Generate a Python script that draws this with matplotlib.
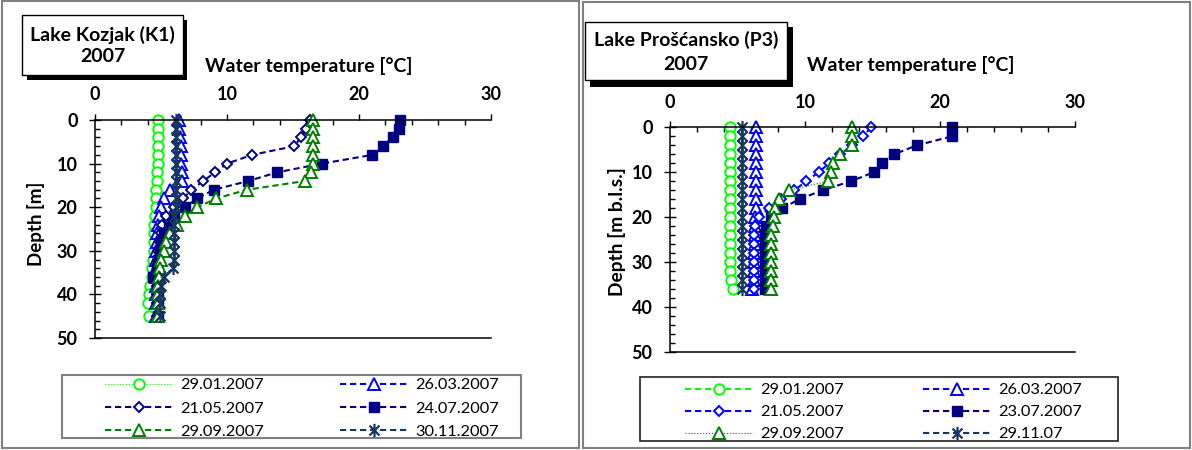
import matplotlib
matplotlib.use("Agg")
import matplotlib.pyplot as plt
from matplotlib.patches import Rectangle
from matplotlib.lines import Line2D
from matplotlib.path import Path
from matplotlib.ticker import MultipleLocator

plt.rcParams['font.family'] = ['Lato', 'DejaVu Sans']

W, H = 1192, 450

# ---- Lake Kozjak (K1), depth [m] vs temperature [°C]
k_depth = [0, 2, 4, 6, 8, 10, 12, 14, 16, 18, 20, 22, 24, 26, 28, 30, 32, 34, 36, 38, 40, 42, 45]
k_2901 = [4.75, 4.75, 4.75, 4.75, 4.75, 4.75, 4.7, 4.7, 4.65, 4.6, 4.6, 4.55, 4.5, 4.5, 4.5, 4.45,
          4.4, 4.35, 4.3, 4.2, 4.1, 4.0, 4.1]
k_2603 = [6.4, 6.4, 6.45, 6.5, 6.5, 6.55, 6.6, 6.6, 5.7, 5.2, 5.0, 4.85, 4.75, 4.7, 4.7, 4.65,
          4.65, 4.6, 4.6, 4.6, 4.6, 4.6, 4.6]
k_2105 = [16.3, 16.0, 15.6, 15.1, 11.9, 10.0, 9.1, 8.2, 7.3, 6.7, 6.0, 5.4, 5.1, 5.0, 4.9, 4.8,
          4.8, 4.75, 4.7, 4.7, 4.7, 4.7, 4.7]
k_2407 = [23.1, 23.0, 22.55, 21.8, 21.0, 17.2, 13.8, 11.6, 9.0, 7.75, 6.8, 6.0, 5.6, 5.2, 5.0, 4.9,
          4.8, 4.7, 4.4, 4.7, 4.8, 4.8, 4.8]
k_2909 = [16.5, 16.5, 16.5, 16.5, 16.5, 16.5, 16.4, 15.9, 11.5, 9.2, 7.75, 6.8, 6.2, 5.7, 5.4, 5.2,
          5.0, 4.9, 4.85, 4.8, 4.8, 4.8, 4.8]
k_3011 = [6.1, 6.1, 6.1, 6.1, 6.1, 6.1, 6.1, 6.1, 6.1, 6.1, 6.1, 6.0, 6.0, 6.0, 6.0, 6.0,
          5.95, 5.9, 5.2, 5.0, 4.9, 4.9, 4.9]
k_labels = ['29.01.2007', '26.03.2007', '21.05.2007', '24.07.2007', '29.09.2007', '30.11.2007']

# ---- Lake Prošćansko (P3)
p_depth = [0, 2, 4, 6, 8, 10, 12, 14, 16, 18, 20, 22, 24, 26, 28, 30, 32, 34, 36]
p_2901 = [4.45, 4.45, 4.45, 4.45, 4.45, 4.45, 4.45, 4.45, 4.45, 4.45, 4.45, 4.45, 4.45, 4.45,
          4.45, 4.45, 4.45, 4.5, 4.65]
p_2603 = [6.35, 6.35, 6.35, 6.35, 6.35, 6.35, 6.35, 6.35, 6.35, 6.35, 6.3, 6.3, 6.3, 6.3,
          6.25, 6.25, 6.2, 6.2, 6.1]
p_2105 = [14.9, 14.3, 13.5, 12.6, 11.8, 11.0, 10.1, 9.2, 8.2, 7.3, 6.6, 6.3, 6.2, 6.2,
          6.2, 6.2, 6.2, 6.2, 6.2]
p_2307 = [20.9, 20.9, 18.3, 16.6, 15.7, 15.1, 13.4, 11.3, 9.6, 8.3, 7.5, 7.1, 7.0, 7.0,
          7.0, 7.0, 7.0, 7.0, 7.0]
p_2909 = [13.5, 13.5, 13.5, 12.6, 12.1, 11.9, 11.7, 8.8, 8.1, 7.8, 7.7, 7.6, 7.5, 7.5,
          7.5, 7.5, 7.5, 7.5, 7.5]
p_2911 = [5.3, 5.3, 5.3, 5.3, 5.3, 5.3, 5.3, 5.3, 5.3, 5.3, 5.3, 5.3, 5.3, 5.3,
          5.3, 5.3, 5.3, 5.3, 5.3]
p_labels = ['29.01.2007', '26.03.2007', '21.05.2007', '23.07.2007', '29.09.2007', '29.11.07']


def fx(x):
    return x / W


def fy(y):
    return 1 - y / H


star = Path([(0, -1), (0, 1), (-0.75, -0.75), (0.75, 0.75), (-0.75, 0.75), (0.75, -0.75)],
            [Path.MOVETO, Path.LINETO] * 3)
dash = (0, (3, 1.8))

LIME, BLUE, NAVY, GREEN, SLATE = '#00FF00', '#0000FF', '#000080', '#008000', '#17375E'

k_styles = [
    dict(color=LIME, marker='o', mfc='white', ms=7.5, mew=1.4, ls=':', lw=0.8),
    dict(color=BLUE, marker='^', mfc='white', ms=8, mew=1.4, ls=dash, lw=1.5),
    dict(color=NAVY, marker='D', mfc='white', ms=5, mew=1.4, ls=dash, lw=1.5),
    dict(color=NAVY, marker='s', mfc=NAVY, ms=7.5, mew=1, ls=dash, lw=1.5),
    dict(color=GREEN, marker='^', mfc='white', ms=8, mew=1.4, ls=dash, lw=1.5),
    dict(color=SLATE, marker=star, ms=9.5, mew=1.6, ls=dash, lw=1.5),
]
p_styles = [
    dict(color=LIME, marker='o', mfc='white', ms=7.5, mew=1.4, ls=dash, lw=1.5),
    dict(color=BLUE, marker='^', mfc='white', ms=8, mew=1.4, ls=dash, lw=1.5),
    dict(color=BLUE, marker='D', mfc='white', ms=5, mew=1.4, ls=dash, lw=1.5),
    dict(color=NAVY, marker='s', mfc=NAVY, ms=7.5, mew=1, ls=dash, lw=1.5),
    dict(color=GREEN, marker='^', mfc='white', ms=8, mew=1.4, ls=':', lw=0.8),
    dict(color=SLATE, marker=star, ms=9.5, mew=1.6, ls=dash, lw=1.5),
]


def setup_axes(ax):
    ax.set_xlim(0, 30)
    ax.set_ylim(50, 0)
    ax.xaxis.tick_top()
    ax.xaxis.set_major_locator(MultipleLocator(10))
    ax.xaxis.set_minor_locator(MultipleLocator(2))
    ax.yaxis.set_major_locator(MultipleLocator(10))
    ax.yaxis.set_minor_locator(MultipleLocator(2))
    ax.tick_params(axis='x', which='major', direction='out', length=4, width=1, pad=8, labelsize=13)
    ax.tick_params(axis='x', which='minor', direction='in', length=3.5, width=1)
    ax.tick_params(axis='y', which='major', direction='inout', length=9, width=1, pad=8, labelsize=13)
    ax.tick_params(axis='y', which='minor', direction='in', length=3.5, width=1)
    ax.spines['right'].set_visible(False)
    for s in ['top', 'left', 'bottom']:
        ax.spines[s].set_linewidth(1.1)
    for lbl in ax.get_xticklabels() + ax.get_yticklabels():
        lbl.set_fontweight('bold')


def draw_series(ax, depth, series, styles):
    for vals, st in zip(series, styles):
        ax.plot(vals, depth, clip_on=False, **st)


def title_box(x0, y0, x1, y1, sx, sy, line1, line2, ty1, ty2):
    # shadow then white box
    fig.add_artist(Rectangle((fx(x0 + 5), fy(y1 + sy)), (x1 - x0 + sx - 5) / W, (y1 - y0 + sy - 5) / H,
                             transform=fig.transFigure, facecolor='black', edgecolor='none', zorder=3))
    fig.add_artist(Rectangle((fx(x0), fy(y1)), (x1 - x0) / W, (y1 - y0) / H,
                             transform=fig.transFigure, facecolor='white', edgecolor='black', lw=1, zorder=4))
    cx = (x0 + x1) / 2
    fig.text(fx(cx), fy(ty1), line1, ha='center', va='center', fontsize=14, fontweight='bold', zorder=5)
    fig.text(fx(cx), fy(ty2), line2, ha='center', va='center', fontsize=14, fontweight='bold', zorder=5)


def legend_block(handles, labels, x_col1, x_col2, y_top, spacing):
    order = [[0, 2, 4], [1, 3, 5]]
    for xc, idx in zip([x_col1, x_col2], order):
        fig.legend([handles[i] for i in idx], [labels[i] for i in idx], loc='upper left',
                   bbox_to_anchor=(fx(xc), fy(y_top)), frameon=False, borderpad=0,
                   borderaxespad=0, handlelength=4.15, handletextpad=0.45,
                   labelspacing=spacing, fontsize=11.8, numpoints=1)


fig = plt.figure(figsize=(W / 100, H / 100), dpi=100)

# panel borders
fig.add_artist(Rectangle((fx(2), fy(448)), 577 / W, 447 / H, transform=fig.transFigure,
                         fill=False, edgecolor='#808080', lw=1.5, zorder=0))
fig.add_artist(Rectangle((fx(583), fy(448)), 607 / W, 446 / H, transform=fig.transFigure,
                         fill=False, edgecolor='#808080', lw=1.5, zorder=0))

# ---- left panel
ax1 = fig.add_axes([fx(95), fy(338), (491 - 95) / W, (338 - 120) / H])
draw_series(ax1, k_depth, [k_2901, k_2603, k_2105, k_2407, k_2909, k_3011], k_styles)
setup_axes(ax1)
fig.text(fx(205), fy(66), 'Water temperature [°C]', ha='left', va='center', fontsize=14, fontweight='bold')
fig.text(fx(36), fy(224), 'Depth [m]', rotation=90, ha='center', va='center', fontsize=13.5, fontweight='bold')
title_box(22, 15, 183, 75, 4, 5, 'Lake Kozjak (K1)', '2007', 35, 56)

k_handles = [Line2D([], [], **st) for st in k_styles]
fig.add_artist(Rectangle((fx(62), fy(438)), (521 - 62) / W, (438 - 375) / H, transform=fig.transFigure,
                         fill=False, edgecolor='#808080', lw=1.5))
legend_block(k_handles, k_labels, 105, 340, 378, 0.53)

# ---- right panel
ax2 = fig.add_axes([fx(670), fy(352), (1075 - 670) / W, (352 - 127.3) / H])
draw_series(ax2, p_depth, [p_2901, p_2603, p_2105, p_2307, p_2909, p_2911], p_styles)
setup_axes(ax2)
fig.text(fx(807), fy(65), 'Water temperature [°C]', ha='left', va='center', fontsize=14, fontweight='bold')
fig.text(fx(617), fy(232), 'Depth [m b.l.s.]', rotation=90, ha='center', va='center', fontsize=13.8,
         fontweight='bold')
title_box(585, 22, 787, 80, 6, 7, 'Lake Prošćansko (P3)', '2007', 40, 65)

p_handles = [Line2D([], [], **st) for st in p_styles]
fig.add_artist(Rectangle((fx(640), fy(441)), (1118 - 640) / W, (441 - 377) / H, transform=fig.transFigure,
                         fill=False, edgecolor='#202020', lw=1.2))
legend_block(p_handles, p_labels, 685, 923, 383, 0.46)

fig.savefig('out.png', dpi=100)
